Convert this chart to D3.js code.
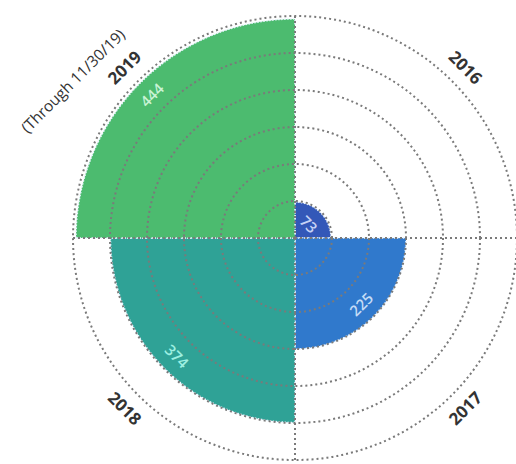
<!DOCTYPE html>
<html>
<head>
<meta charset="utf-8">
<script src="https://cdn.jsdelivr.net/npm/d3@7"></script>
<style>
  body { margin: 0; background: #fff; }
  svg { display: block; font-family: "Open Sans", sans-serif; }
</style>
</head>
<body>
<div id="chart"></div>
<script>
// data
const years = ["2016", "2017", "2018", "2019"];
const counts = [73, 225, 374, 444];
const colors = ["#3358b8", "#3079cc", "#2fa296", "#4cbb6f"];
const valueColors = ["#c6d2f5", "#c4dcf6", "#9ef0e2", "#c9f3d5"];
const gridTicks = [75, 150, 225, 300, 375, 450];
const note = "(Through 11/30/19)";

const W = 516, H = 464;
const cx = 295, cy = 238;
const R = 222;

const svg = d3.select("#chart")
  .append("svg")
  .attr("width", W)
  .attr("height", H);

const g = svg.append("g")
  .attr("transform", `translate(${cx}, ${cy})`);

const rScale = d3.scaleLinear()
  .domain([0, 450])
  .range([0, R]);

const angle = d3.scaleBand()
  .domain(years)
  .range([0, 2 * Math.PI])
  .padding(0);

const data = years.map((y, i) => ({ year: y, value: counts[i], i }));

const arc = d3.arc()
  .innerRadius(0)
  .outerRadius(d => rScale(d.value))
  .startAngle(d => angle(d.year))
  .endAngle(d => angle(d.year) + angle.bandwidth());

// wedges
g.selectAll("path.wedge")
  .data(data)
  .enter()
  .append("path")
  .attr("class", "wedge")
  .attr("d", arc)
  .attr("fill", d => colors[d.i])
  .attr("stroke", "#e8f4ff")
  .attr("stroke-width", 1.5)
  .attr("stroke-dasharray", "1.5,1.5");

// grid rings (on top)
g.selectAll("circle.ring")
  .data(gridTicks)
  .enter()
  .append("circle")
  .attr("class", "ring")
  .attr("r", d => rScale(d))
  .attr("fill", "none")
  .attr("stroke", "#7a7a7a")
  .attr("stroke-width", 2)
  .attr("stroke-dasharray", "2,3");

// spokes
g.selectAll("line.spoke")
  .data(years)
  .enter()
  .append("line")
  .attr("class", "spoke")
  .attr("x1", 0).attr("y1", 0)
  .attr("x2", d => Math.sin(angle(d)) * R)
  .attr("y2", d => -Math.cos(angle(d)) * R)
  .attr("stroke", "#7a7a7a")
  .attr("stroke-width", 2)
  .attr("stroke-dasharray", "2,3");

// tangential rotation helper
function rot(a) {
  const deg = a * 180 / Math.PI;
  return (deg > 90 && deg < 270) ? deg - 180 : deg;
}

const mid = d => angle(d.year) + angle.bandwidth() / 2;

// year labels
const labelR = 241;
g.selectAll("text.year")
  .data(data)
  .enter()
  .append("text")
  .attr("class", "year")
  .attr("transform", d => {
    const a = mid(d);
    return `translate(${Math.sin(a) * labelR}, ${-Math.cos(a) * labelR}) rotate(${rot(a)})`;
  })
  .attr("text-anchor", "middle")
  .attr("dy", "0.35em")
  .attr("font-size", "17px")
  .attr("font-weight", "bold")
  .attr("fill", "#333")
  .text(d => d.year);

// note under 2019
const d19 = data[3];
const a19 = mid(d19);
g.append("text")
  .attr("transform", `translate(${Math.sin(a19) * labelR}, ${-Math.cos(a19) * labelR}) rotate(${rot(a19)}) translate(-46, -27)`)
  .attr("text-anchor", "middle")
  .attr("dy", "0.35em")
  .attr("font-size", "15.5px")
  .attr("fill", "#333")
  .text(note);

// value labels
g.selectAll("text.value")
  .data(data)
  .enter()
  .append("text")
  .attr("class", "value")
  .attr("transform", d => {
    const a = mid(d);
    const r = rScale(d.value) - 17;
    return `translate(${Math.sin(a) * r}, ${-Math.cos(a) * r}) rotate(${rot(a)})`;
  })
  .attr("text-anchor", "middle")
  .attr("dy", "0.35em")
  .attr("font-size", "15px")
  .attr("font-weight", 600)
  .attr("fill", d => valueColors[d.i])
  .text(d => d.value);
</script>
</body>
</html>
